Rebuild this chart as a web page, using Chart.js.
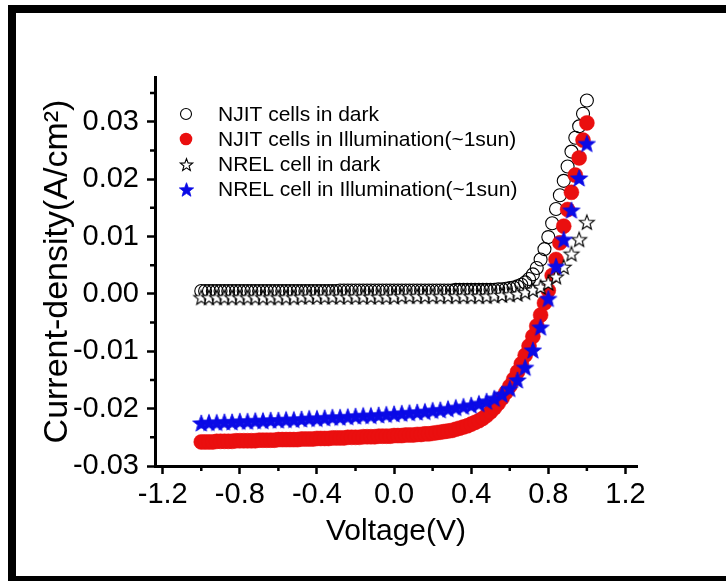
<!DOCTYPE html>
<html>
<head>
<meta charset="utf-8">
<script src="https://cdn.jsdelivr.net/npm/chart.js@4.4.0/dist/chart.umd.min.js"></script>
<style>
html,body{margin:0;padding:0;background:#fff;overflow:hidden;}
#wrap{position:relative;width:726px;height:581px;overflow:hidden;background:#fff;}
#c{position:absolute;left:0;top:0;}
#frame{position:absolute;left:8px;top:5px;width:760px;height:576px;box-sizing:border-box;border-left:8px solid #000;border-top:8px solid #000;border-bottom:5px solid #000;pointer-events:none;}
</style>
</head>
<body>
<div id="wrap">
<canvas id="c" width="726" height="581"></canvas>
<div id="frame"></div>
</div>
<script>
// ---------------- data ----------------
const seriesNames = [
  'NJIT cells in dark',
  'NJIT cells in Illumination(~1sun)',
  'NREL cell in dark',
  'NREL cell in Illumination(~1sun)'
];

const voltageNJIT = [
  -1.00,-0.98,-0.96,-0.94,-0.92,-0.90,-0.88,-0.86,-0.84,-0.82,
  -0.80,-0.78,-0.76,-0.74,-0.72,-0.70,-0.68,-0.66,-0.64,-0.62,
  -0.60,-0.58,-0.56,-0.54,-0.52,-0.50,-0.48,-0.46,-0.44,-0.42,
  -0.40,-0.38,-0.36,-0.34,-0.32,-0.30,-0.28,-0.26,-0.24,-0.22,
  -0.20,-0.18,-0.16,-0.14,-0.12,-0.10,-0.08,-0.06,-0.04,-0.02,
  0.00,0.02,0.04,0.06,0.08,0.10,0.12,0.14,0.16,0.18,
  0.20,0.22,0.24,0.26,0.28,0.30,0.32,0.34,0.36,0.38,
  0.40,0.42,0.44,0.46,0.48,0.50,0.52,0.54,0.56,0.58,
  0.60,0.62,0.64,0.66,0.68,0.70,0.72,0.74,0.76,0.78,
  0.80,0.82,0.84,0.86,0.88,0.90,0.92,0.94,0.96,0.98,1.00
];

const njitDark = [
  0.0005,0.0005,0.0005,0.0005,0.0005,0.0005,0.0005,0.0005,0.0005,0.0005,
  0.0005,0.0005,0.0005,0.0005,0.0005,0.0005,0.0005,0.0005,0.0005,0.0005,
  0.0005,0.0005,0.0005,0.0005,0.0005,0.0005,0.0005,0.0005,0.0005,0.0005,
  0.0005,0.0005,0.0005,0.0005,0.0005,0.0005,0.0006,0.0006,0.0006,0.0006,
  0.0006,0.0006,0.0006,0.0006,0.0006,0.0006,0.0006,0.0006,0.0006,0.0006,
  0.0006,0.0006,0.0006,0.0006,0.0006,0.0006,0.0006,0.0006,0.0006,0.0006,
  0.0006,0.0006,0.0006,0.0006,0.0006,0.0006,0.0007,0.0007,0.0007,0.0007,
  0.0007,0.0007,0.0007,0.0007,0.0007,0.0007,0.0007,0.0008,0.0008,0.0009,
  0.0010,0.0011,0.0013,0.0016,0.0020,0.0026,0.0034,0.0045,0.0060,0.0078,
  0.0099,0.0123,0.0148,0.0172,0.0197,0.0222,0.0248,0.0272,0.0292,0.0314,0.0337
];

const njitLight = [
  -0.0258,-0.0258,-0.0258,-0.0258,-0.0257,-0.0257,-0.0257,-0.0257,-0.0257,-0.0256,
  -0.0256,-0.0256,-0.0256,-0.0256,-0.0256,-0.0255,-0.0255,-0.0255,-0.0255,-0.0255,
  -0.0254,-0.0254,-0.0254,-0.0254,-0.0254,-0.0254,-0.0253,-0.0253,-0.0253,-0.0253,
  -0.0252,-0.0252,-0.0252,-0.0252,-0.0251,-0.0251,-0.0251,-0.0251,-0.0250,-0.0250,
  -0.0250,-0.0250,-0.0249,-0.0249,-0.0249,-0.0249,-0.0248,-0.0248,-0.0248,-0.0248,
  -0.0247,-0.0247,-0.0247,-0.0246,-0.0246,-0.0246,-0.0245,-0.0245,-0.0244,-0.0244,
  -0.0243,-0.0242,-0.0241,-0.0240,-0.0239,-0.0238,-0.0236,-0.0234,-0.0232,-0.0230,
  -0.0227,-0.0224,-0.0221,-0.0217,-0.0212,-0.0206,-0.0199,-0.0191,-0.0182,-0.0172,
  -0.0161,-0.0149,-0.0136,-0.0122,-0.0107,-0.0091,-0.0074,-0.0056,-0.0037,-0.0016,
  0.0006,0.0032,0.0060,0.0089,0.0118,0.0147,0.0177,0.0207,0.0237,0.0268,0.0298
];

const voltageNREL = [
  -1.00,-0.96,-0.92,-0.88,-0.84,-0.80,-0.76,-0.72,-0.68,-0.64,-0.60,-0.56,-0.52,
  -0.48,-0.44,-0.40,-0.36,-0.32,-0.28,-0.24,-0.20,-0.16,-0.12,-0.08,-0.04,0.00,
  0.04,0.08,0.12,0.16,0.20,0.24,0.28,0.32,0.36,0.40,0.44,0.48,
  0.52,0.56,0.60,0.64,0.68,0.72,0.76,0.80,0.84,0.88,0.92,0.96,1.00
];

const nrelDark = [
  -0.0006,-0.0006,-0.0006,-0.0006,-0.0006,-0.0006,-0.0006,-0.0006,-0.0006,-0.0006,-0.0006,-0.0006,-0.0006,
  -0.0005,-0.0005,-0.0005,-0.0005,-0.0005,-0.0005,-0.0005,-0.0005,-0.0005,-0.0005,-0.0005,-0.0005,-0.0005,
  -0.0004,-0.0004,-0.0004,-0.0004,-0.0004,-0.0004,-0.0004,-0.0004,-0.0004,-0.0004,-0.0004,-0.0004,
  -0.0003,-0.0002,-0.0001,0.0000,0.0003,0.0007,0.0012,0.0019,0.0030,0.0047,0.0070,0.0095,0.0125
];

const nrelLight = [
  -0.0225,-0.0224,-0.0224,-0.0223,-0.0223,-0.0222,-0.0222,-0.0221,-0.0221,-0.0220,-0.0220,-0.0219,-0.0219,
  -0.0218,-0.0217,-0.0217,-0.0216,-0.0215,-0.0215,-0.0214,-0.0213,-0.0212,-0.0212,-0.0211,-0.0210,-0.0209,
  -0.0208,-0.0207,-0.0206,-0.0205,-0.0203,-0.0202,-0.0200,-0.0198,-0.0196,-0.0194,-0.0191,-0.0187,
  -0.0182,-0.0175,-0.0165,-0.0150,-0.0128,-0.0098,-0.0058,-0.0008,0.0048,0.0095,0.0146,0.0202,0.0262
];

const xTickValues = [-1.2,-0.8,-0.4,0.0,0.4,0.8,1.2];
const xTickLabels = ['-1.2','-0.8','-0.4','0.0','0.4','0.8','1.2'];
const xMinorTicks = [-1.0,-0.6,-0.2,0.2,0.6,1.0];
const yTickValues = [-0.03,-0.02,-0.01,0.00,0.01,0.02,0.03];
const yTickLabels = ['-0.03','-0.02','-0.01','0.00','0.01','0.02','0.03'];
const yMinorTicks = [-0.025,-0.015,-0.005,0.005,0.015,0.025,0.035];

const xTitle = 'Voltage(V)';
const yTitle = 'Current-density(A/cm\u00B2)';

// ---------------- rendering ----------------
const FONT = "'Liberation Sans', Arial, Helvetica, sans-serif";

function makeStar(r, fill, stroke, lw) {
  const pad = Math.ceil(lw) + 1;
  const size = Math.ceil(2 * r + 2 * pad);
  const c = document.createElement('canvas');
  c.width = size; c.height = size;
  const g = c.getContext('2d');
  const cx = size / 2, cy = size / 2 + r * 0.095;
  g.beginPath();
  for (let i = 0; i < 10; i++) {
    const rr = (i % 2 === 0) ? r : r * 0.42;
    const a = -Math.PI / 2 + i * Math.PI / 5;
    const px = cx + rr * Math.cos(a), py = cy + rr * Math.sin(a);
    if (i === 0) g.moveTo(px, py); else g.lineTo(px, py);
  }
  g.closePath();
  if (fill) { g.fillStyle = fill; g.fill(); }
  if (stroke) { g.lineWidth = lw; g.strokeStyle = stroke; g.lineJoin = 'miter'; g.stroke(); }
  return c;
}

const BLUE = '#0a0ae6';
const RED = '#ea0f0f';
const starBlue = makeStar(9, BLUE, BLUE, 0.8);
const starOpen = makeStar(7.8, '#ffffff', '#000000', 1.1);
const starBlueLeg = makeStar(7.5, BLUE, BLUE, 0.8);
const starOpenLeg = makeStar(6.5, '#ffffff', '#000000', 1.1);

function toXY(xs, ys) { return xs.map((x, i) => ({ x: x, y: ys[i] })); }

const minorTicks = {
  id: 'minorTicks',
  afterDraw(chart) {
    const { ctx, scales } = chart;
    const x = scales.x, y = scales.y;
    ctx.save();
    ctx.strokeStyle = '#000';
    ctx.lineWidth = 2.5;
    ctx.beginPath();
    xMinorTicks.forEach(v => { const p = x.getPixelForValue(v); ctx.moveTo(p, x.top); ctx.lineTo(p, x.top + 5); });
    yMinorTicks.forEach(v => { const p = y.getPixelForValue(v); ctx.moveTo(y.right, p); ctx.lineTo(y.right - 5, p); });
    ctx.stroke();
    ctx.restore();
  }
};

const insideLegend = {
  id: 'insideLegend',
  afterDraw(chart, args, opts) {
    const ctx = chart.ctx;
    ctx.save();
    ctx.font = opts.fontSize + 'px ' + FONT;
    ctx.fillStyle = '#000';
    ctx.textBaseline = 'middle';
    ctx.textAlign = 'left';
    chart.data.datasets.forEach((ds, i) => {
      const yy = opts.top + i * opts.rowGap;
      const mx = opts.markerX;
      const st = ds.legendStyle;
      ctx.save();
      if (st.image) {
        ctx.drawImage(st.image, Math.round(mx - st.image.width / 2), Math.round(yy - st.image.height / 2));
      } else {
        ctx.beginPath();
        ctx.arc(mx, yy, st.radius, 0, Math.PI * 2);
        if (st.fill) { ctx.fillStyle = st.fill; ctx.fill(); }
        if (st.stroke) { ctx.lineWidth = st.lw; ctx.strokeStyle = st.stroke; ctx.stroke(); }
      }
      ctx.restore();
      ctx.fillText(ds.label, opts.textX, yy + 1);
    });
    ctx.restore();
  }
};

new Chart(document.getElementById('c'), {
  type: 'scatter',
  data: {
    datasets: [
      {
        label: seriesNames[0], data: toXY(voltageNJIT, njitDark),
        pointStyle: 'circle', pointRadius: 6.5, pointBackgroundColor: 'rgba(255,255,255,0)',
        pointBorderColor: '#000', pointBorderWidth: 1.1, order: 4,
        legendStyle: { radius: 5.5, stroke: '#000', lw: 1.1 }
      },
      {
        label: seriesNames[1], data: toXY(voltageNJIT, njitLight),
        pointStyle: 'circle', pointRadius: 7.5, pointBackgroundColor: RED,
        pointBorderColor: RED, pointBorderWidth: 0.5, order: 3,
        legendStyle: { radius: 6.3, fill: RED }
      },
      {
        label: seriesNames[2], data: toXY(voltageNREL, nrelDark),
        pointStyle: starOpen, order: 2,
        legendStyle: { image: starOpenLeg }
      },
      {
        label: seriesNames[3], data: toXY(voltageNREL, nrelLight),
        pointStyle: starBlue, order: 1,
        legendStyle: { image: starBlueLeg }
      }
    ]
  },
  options: {
    responsive: false,
    animation: false,
    events: [],
    devicePixelRatio: 1,
    layout: { padding: { left: 0, top: 77, right: 89, bottom: 0 } },
    plugins: {
      legend: { display: false },
      tooltip: { enabled: false },
      insideLegend: { top: 114, rowGap: 25, markerX: 186, textX: 218, fontSize: 21 }
    },
    scales: {
      x: {
        type: 'linear', position: 'bottom', min: -1.24, max: 1.26,
        afterBuildTicks: s => { s.ticks = xTickValues.map(v => ({ value: v })); },
        afterFit: s => { s.height = 115; },
        ticks: {
          autoSkip: false, maxRotation: 0, minRotation: 0, padding: 4, color: '#000',
          font: { family: FONT, size: 29 },
          callback: (v, i) => xTickLabels[i]
        },
        grid: { display: true, drawOnChartArea: false, drawTicks: true, tickLength: 8, tickWidth: 2.5, tickColor: '#000' },
        border: { display: true, color: '#000', width: 3 },
        title: { display: true, text: xTitle, color: '#000', font: { family: FONT, size: 30 }, padding: { top: 0, bottom: 31 } }
      },
      y: {
        type: 'linear', position: 'left', min: -0.03, max: 0.0378,
        afterBuildTicks: s => { s.ticks = yTickValues.map(v => ({ value: v })); },
        afterFit: s => { s.width = 155; },
        ticks: {
          autoSkip: false, padding: 8, color: '#000',
          font: { family: FONT, size: 29 },
          callback: (v, i) => yTickLabels[i]
        },
        grid: { display: true, drawOnChartArea: false, drawTicks: true, tickLength: 8, tickWidth: 2.5, tickColor: '#000' },
        border: { display: true, color: '#000', width: 3 },
        title: { display: true, text: yTitle, color: '#000', font: { family: FONT, size: 34 }, padding: { top: 37, bottom: 0 } }
      }
    }
  },
  plugins: [minorTicks, insideLegend]
});
</script>
</body>
</html>
